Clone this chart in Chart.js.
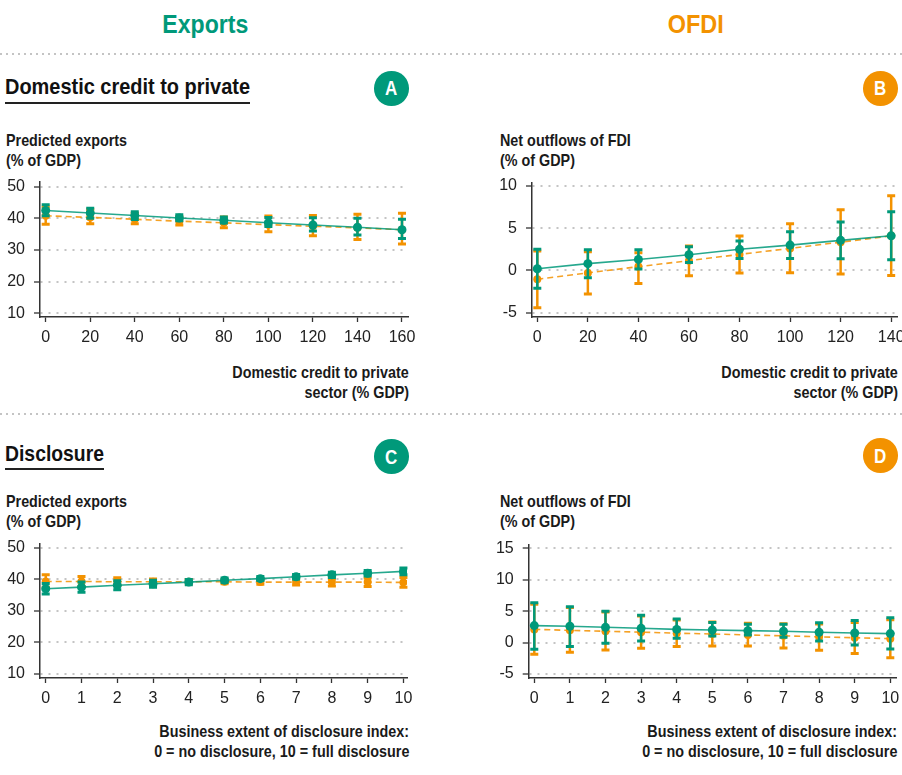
<!DOCTYPE html>
<html><head><meta charset="utf-8">
<script src="https://cdn.jsdelivr.net/npm/chart.js@4.4.0/dist/chart.umd.min.js"></script>
<style>
html,body{margin:0;padding:0;background:#fff;}
body{width:902px;height:775px;position:relative;overflow:hidden;font-family:"Liberation Sans",Arial,sans-serif;}
.t{position:absolute;white-space:nowrap;font-weight:bold;line-height:1;}
.sep{position:absolute;left:0;width:902px;height:2px;background:repeating-linear-gradient(to right,#c4c4c4 0 2px,transparent 2px 6px);}
.circ{position:absolute;border-radius:50%;}
.ul{position:absolute;height:2px;background:#222;}
canvas{position:absolute;}
</style></head><body>
<canvas id="cA" width="420" height="187" style="left:0;top:170px"></canvas>
<canvas id="cB" width="412" height="187" style="left:490px;top:170px"></canvas>
<canvas id="cC" width="420" height="187" style="left:0;top:531px"></canvas>
<canvas id="cD" width="412" height="185" style="left:490px;top:533px"></canvas>
<script>
// ---------- DATA ----------
const creditA = [0, 20, 40, 60, 80, 100, 120, 140, 160];
const aGreen   = [42.5, 41.7, 40.9, 40.1, 39.4, 38.6, 37.9, 37.2, 36.4];
const aGreenLo = [40.8, 40.0, 39.6, 39.2, 38.5, 37.4, 36.0, 34.7, 33.6];
const aGreenHi = [44.3, 43.2, 42.1, 41.1, 40.4, 40.3, 40.2, 40.0, 39.7];
const aOrange   = [40.8, 40.3, 39.7, 39.1, 38.6, 38.0, 37.5, 37.0, 36.4];
const aOrangeLo = [38.1, 38.3, 38.3, 37.9, 37.0, 35.8, 34.5, 33.3, 31.9];
const aOrangeHi = [43.6, 42.8, 41.6, 40.5, 40.4, 40.7, 40.9, 41.3, 41.6];

const creditB = [0, 20, 40, 60, 80, 100, 120, 140];
const bGreen   = [0.2, 0.8, 1.3, 1.86, 2.5, 3.0, 3.56, 4.1];
const bGreenLo = [-2.1, -0.87, 0.16, 0.95, 1.42, 1.42, 1.38, 1.26];
const bGreenHi = [2.5, 2.45, 2.45, 2.8, 3.48, 4.58, 5.73, 6.96];
const bOrange   = [-1.05, -0.3, 0.45, 1.15, 1.9, 2.6, 3.35, 4.1];
const bOrangeLo = [-4.43, -2.8, -1.54, -0.63, -0.3, -0.28, -0.43, -0.6];
const bOrangeHi = [2.3, 2.2, 2.1, 2.9, 4.07, 5.53, 7.2, 8.85];

const disclosure = [0, 1, 2, 3, 4, 5, 6, 7, 8, 9, 10];
const cGreen   = [37.0, 37.5, 38.1, 38.6, 39.1, 39.7, 40.2, 40.8, 41.4, 41.9, 42.5];
const cGreenLo = [35.3, 35.9, 36.7, 37.5, 38.3, 39.0, 39.6, 40.1, 40.6, 41.0, 41.4];
const cGreenHi = [38.7, 39.1, 39.5, 39.7, 39.9, 40.4, 40.9, 41.5, 42.2, 42.8, 43.6];
const cOrange   = [39.3, 39.3, 39.2, 39.2, 39.2, 39.2, 39.1, 39.1, 39.1, 39.1, 39.0];
const cOrangeLo = [37.5, 37.7, 38.0, 38.3, 38.5, 38.6, 38.4, 38.2, 37.9, 37.7, 37.5];
const cOrangeHi = [41.4, 40.9, 40.5, 40.1, 39.9, 39.8, 39.8, 40.0, 40.2, 40.4, 40.6];

const dGreen   = [2.7, 2.6, 2.43, 2.27, 2.1, 2.0, 1.9, 1.8, 1.64, 1.53, 1.43];
const dGreenLo = [-1.06, -0.63, -0.1, 0.26, 0.69, 1.06, 1.2, 0.85, 0.26, -0.37, -1.0];
const dGreenHi = [6.35, 5.7, 4.97, 4.34, 3.76, 3.2, 2.9, 2.9, 3.17, 3.5, 3.97];
const dOrange   = [2.1, 1.95, 1.8, 1.66, 1.5, 1.37, 1.22, 1.07, 0.92, 0.78, 0.63];
const dOrangeLo = [-1.85, -1.53, -1.16, -0.9, -0.63, -0.53, -0.53, -0.85, -1.2, -1.75, -2.4];
const dOrangeHi = [6.1, 5.6, 4.87, 4.23, 3.6, 3.28, 3.07, 3.0, 2.96, 3.2, 3.65];

const ticksExports = [10, 20, 30, 40, 50];
const ticksB = [-5, 0, 5, 10];
const ticksD = [-5, 0, 5, 10, 15];
const ticksCreditA = [0, 20, 40, 60, 80, 100, 120, 140, 160];
const ticksCreditB = [0, 20, 40, 60, 80, 100, 120, 140];
const ticksDisc = [0, 1, 2, 3, 4, 5, 6, 7, 8, 9, 10];

// ---------- STYLE ----------
const GREEN = '#00997A';
const ORANGE = '#F39200';
const AXIS = '#333';

const errorBars = {
  id: 'errorBars',
  beforeDatasetDraw(chart, args) {
    const ds = chart.data.datasets[args.index];
    if (!ds.errLo) return;
    const xs = chart.scales.x, ys = chart.scales.y, ctx = chart.ctx;
    ctx.save();
    ctx.strokeStyle = ds.errColor;
    ds.data.forEach((p, i) => {
      const x = xs.getPixelForValue(p.x);
      const y1 = ys.getPixelForValue(ds.errLo[i]);
      const y2 = ys.getPixelForValue(ds.errHi[i]);
      ctx.lineWidth = 2.5;
      ctx.beginPath(); ctx.moveTo(x, y1); ctx.lineTo(x, y2); ctx.stroke();
      ctx.lineWidth = 3;
      ctx.beginPath();
      ctx.moveTo(x - 4, y1); ctx.lineTo(x + 4, y1);
      ctx.moveTo(x - 4, y2); ctx.lineTo(x + 4, y2);
      ctx.stroke();
    });
    ctx.restore();
  }
};

function pts(xs, ys) { return xs.map((x, i) => ({x: x, y: ys[i]})); }

function makeChart(id, o) {
  new Chart(document.getElementById(id), {
    type: 'line',
    data: {
      datasets: [
        { data: pts(o.x, o.g), errLo: o.gLo, errHi: o.gHi, errColor: GREEN,
          borderColor: 'rgba(0,153,122,0.85)', borderWidth: 1.6, pointRadius: 4.5,
          pointBackgroundColor: GREEN, pointBorderWidth: 0, tension: 0 },
        { data: pts(o.x, o.o), errLo: o.oLo, errHi: o.oHi, errColor: ORANGE,
          borderColor: 'rgba(243,146,0,0.85)', borderWidth: 1.6, borderDash: [6, 4], pointRadius: 4,
          pointBackgroundColor: ORANGE, pointBorderWidth: 0, tension: 0 }
      ]
    },
    options: {
      responsive: false, animation: false,
      layout: { padding: { top: o.padTop, right: o.padRight, left: 0, bottom: 0 } },
      plugins: { legend: { display: false }, tooltip: { enabled: false } },
      scales: {
        x: {
          type: 'linear', min: o.xMin, max: o.xMax,
          afterBuildTicks: a => { a.ticks = o.xTicks.map(v => ({value: v})); },
          afterFit: s => { s.height = 40; s.paddingLeft = 0; s.paddingRight = 0; },
          grid: { drawOnChartArea: false, drawTicks: true, tickLength: 5, tickColor: AXIS, tickWidth: 1.3, tickBorderDash: [] },
          border: { display: true, color: AXIS, width: 1.5 },
          ticks: { color: '#222', padding: 6, maxRotation: 0, autoSkip: false,
                   font: { family: '"Liberation Sans", Arial, sans-serif', size: 16 } }
        },
        y: {
          type: 'linear', min: o.yMin, max: o.yMax,
          afterBuildTicks: a => { a.ticks = o.yTicks.map(v => ({value: v})); },
          afterFit: s => { s.width = o.yW; s.paddingTop = 0; s.paddingBottom = 0; },
          grid: { color: '#c4c4c4', lineWidth: 2, drawTicks: true, tickLength: 6, tickColor: AXIS, tickWidth: 1.3, tickBorderDash: [] },
          border: { display: true, color: AXIS, width: 1.5, dash: [2, 6] },
          ticks: { color: '#222', padding: 9, autoSkip: false,
                   font: { family: '"Liberation Sans", Arial, sans-serif', size: 16 } }
        }
      }
    },
    plugins: [errorBars]
  });
}

makeChart('cA', { x: creditA, g: aGreen, gLo: aGreenLo, gHi: aGreenHi, o: aOrange, oLo: aOrangeLo, oHi: aOrangeHi,
  xMin: -2.56, xMax: 162.7, yMin: 8.83, yMax: 51.48, xTicks: ticksCreditA, yTicks: ticksExports,
  padTop: 12, padRight: 12, yW: 40 });
makeChart('cB', { x: creditB, g: bGreen, gLo: bGreenLo, gHi: bGreenHi, o: bOrange, oLo: bOrangeLo, oHi: bOrangeHi,
  xMin: -2.1, xMax: 142.5, yMin: -5.52, yMax: 10.44, xTicks: ticksCreditB, yTicks: ticksB,
  padTop: 12.3, padRight: 3, yW: 42 });
makeChart('cC', { x: disclosure, g: cGreen, gLo: cGreenLo, gHi: cGreenHi, o: cOrange, oLo: cOrangeLo, oHi: cOrangeHi,
  xMin: -0.16, xMax: 10.1, yMin: 8.74, yMax: 51.39, xTicks: ticksDisc, yTicks: ticksExports,
  padTop: 12.3, padRight: 13, yW: 40 });
makeChart('cD', { x: disclosure, g: dGreen, gLo: dGreenLo, gHi: dGreenHi, o: dOrange, oLo: dOrangeLo, oHi: dOrangeHi,
  xMin: -0.157, xMax: 10.16, yMin: -5.63, yMax: 15.52, xTicks: ticksDisc, yTicks: ticksD,
  padTop: 12, padRight: 6, yW: 38.7 });

// ---------- TEXT ----------
function txt(s, x, base, size, opts) {
  opts = opts || {};
  const d = document.createElement('div');
  d.className = 't';
  d.textContent = s;
  d.style.fontSize = size + 'px';
  d.style.color = opts.color || '#1a1a1a';
  d.style.top = (base - 0.8465 * size) + 'px';
  d.style.left = '0px';
  document.body.appendChild(d);
  const w = d.getBoundingClientRect().width;
  const sx = opts.w ? opts.w / w : (opts.sx || 0.87);
  const align = opts.align || 'left';
  let left = align === 'left' ? x : align === 'right' ? x - w : x - w / 2;
  d.style.left = left + 'px';
  d.style.transformOrigin = align === 'left' ? 'left center' : align === 'right' ? 'right center' : 'center center';
  d.style.transform = 'scaleX(' + sx + ')';
}
function sep(y) { const d = document.createElement('div'); d.className = 'sep'; d.style.top = y + 'px'; document.body.appendChild(d); }
function ul(x, y, w) { const d = document.createElement('div'); d.className = 'ul'; d.style.left = x + 'px'; d.style.top = y + 'px'; d.style.width = w + 'px'; document.body.appendChild(d); }
function circ(cx, cy, r, color, letter) {
  const d = document.createElement('div'); d.className = 'circ';
  d.style.left = (cx - r) + 'px'; d.style.top = (cy - r) + 'px';
  d.style.width = (2 * r) + 'px'; d.style.height = (2 * r) + 'px'; d.style.background = color;
  document.body.appendChild(d);
  txt(letter, cx, cy + 7, 20, { color: '#fff', align: 'center', sx: 0.85 });
}

txt('Exports', 205, 33.3, 26.5, { color: GREEN, align: 'center', w: 86 });
txt('OFDI', 696, 33.3, 26.5, { color: ORANGE, align: 'center', w: 56 });
sep(52.5);
sep(412.5);

txt('Domestic credit to private', 5, 94.3, 22, { color: '#111', w: 245 });
ul(5, 101.5, 245);
circ(391.7, 88.3, 17.3, GREEN, 'A');
circ(880.5, 88.3, 17.3, ORANGE, 'B');

txt('Disclosure', 5, 461.7, 22, { color: '#111', w: 99 });
ul(5, 467.5, 99);
circ(391.7, 456.5, 17.3, GREEN, 'C');
circ(880.5, 455.5, 17.3, ORANGE, 'D');

txt('Predicted exports', 6, 146, 16.5, { w: 121 });
txt('(% of GDP)', 6, 166, 16.5, {});
txt('Net outflows of FDI', 500, 146, 16.5, {});
txt('(% of GDP)', 500, 166, 16.5, {});
txt('Predicted exports', 6, 507.3, 16.5, { w: 121 });
txt('(% of GDP)', 6, 527.3, 16.5, {});
txt('Net outflows of FDI', 500, 507.3, 16.5, {});
txt('(% of GDP)', 500, 527.3, 16.5, {});

txt('Domestic credit to private', 409, 377.5, 16.5, { align: 'right' });
txt('sector (% GDP)', 409, 397.5, 16.5, { align: 'right' });
txt('Domestic credit to private', 898, 377.5, 16.5, { align: 'right' });
txt('sector (% GDP)', 898, 397.5, 16.5, { align: 'right' });
txt('Business extent of disclosure index:', 409, 737.3, 16.5, { align: 'right' });
txt('0 = no disclosure, 10 = full disclosure', 409, 757.3, 16.5, { align: 'right' });
txt('Business extent of disclosure index:', 897, 737.3, 16.5, { align: 'right' });
txt('0 = no disclosure, 10 = full disclosure', 897, 757.3, 16.5, { align: 'right' });
</script>
</body></html>
